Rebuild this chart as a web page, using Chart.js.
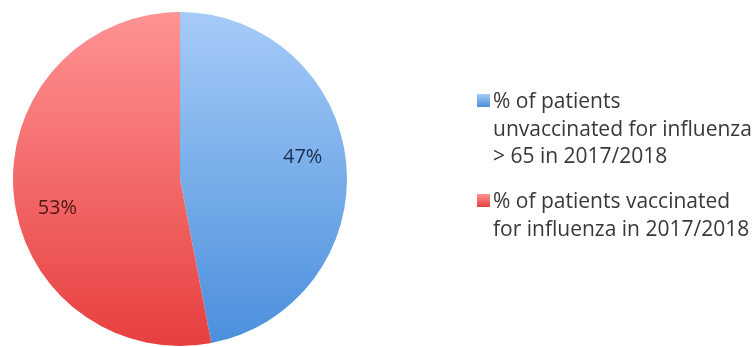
<!DOCTYPE html>
<html>
<head>
<meta charset="utf-8">
<title>Influenza vaccination</title>
<script src="https://cdn.jsdelivr.net/npm/chart.js@4/dist/chart.umd.min.js"></script>
<style>
  body { margin:0; background:#ffffff; }
  #kutu { position:relative; width:755px; height:347px; }
</style>
</head>
<body>
<div id="kutu"><canvas id="pastaChart"></canvas></div>
<script>
/*VERİLER*/
var sliceLabels = [
  ["% of patients", "unvaccinated for influenza", "> 65 in 2017/2018"],
  ["% of patients vaccinated", "for influenza in 2017/2018"]
];
var sliceValues = [47, 53];
var sliceTopColors = ["#a6cbf8", "#ff9393"];
var sliceBottomColors = ["#4a8fdc", "#e73f3f"];
var labelColors = ["#1c2b4c", "#4d1618"];
/*VERİLER*/

var yaziFontu = "'Open Sans', 'Noto Sans', sans-serif";

function dilimRengi(context) {
  var chart = context.chart;
  var alan = chart.chartArea;
  var i = context.dataIndex;
  if (!alan) {
    return sliceBottomColors[i];
  }
  var g = chart.ctx.createLinearGradient(0, alan.top, 0, alan.bottom);
  g.addColorStop(0, sliceTopColors[i]);
  g.addColorStop(1, sliceBottomColors[i]);
  return g;
}

/*DİLİM ETİKETLERİ*/
var dilimEtiketleri = {
  id: "dilimEtiketleri",
  afterDatasetsDraw: function (chart) {
    var ctx = chart.ctx;
    var meta = chart.getDatasetMeta(0);
    ctx.save();
    ctx.font = "20px " + yaziFontu;
    ctx.textAlign = "center";
    ctx.textBaseline = "middle";
    for (var i = 0; i < meta.data.length; i++) {
      var arc = meta.data[i];
      var p = arc.getProps(["x", "y", "startAngle", "endAngle", "outerRadius"], true);
      var aci = (p.startAngle + p.endAngle) / 2 - 0.11;
      var r = p.outerRadius * 0.75;
      ctx.fillStyle = labelColors[i];
      ctx.fillText(sliceValues[i] + "%", p.x + Math.cos(aci) * r, p.y + Math.sin(aci) * r + 4);
    }
    ctx.restore();
  }
};

/*LEJANT*/
var lejant = {
  id: "lejant",
  afterDraw: function (chart) {
    var ctx = chart.ctx;
    var x = 477;
    var y = 108;
    var satir = 27.5;
    ctx.save();
    ctx.font = "21px " + yaziFontu;
    ctx.textAlign = "left";
    ctx.textBaseline = "alphabetic";
    for (var i = 0; i < sliceLabels.length; i++) {
      var g = ctx.createLinearGradient(0, y - 14, 0, y - 1);
      g.addColorStop(0, sliceTopColors[i]);
      g.addColorStop(1, sliceBottomColors[i]);
      ctx.fillStyle = g;
      ctx.fillRect(x, y - 14, 13, 13);
      ctx.fillStyle = "#383838";
      for (var j = 0; j < sliceLabels[i].length; j++) {
        ctx.fillText(sliceLabels[i][j], x + 16, y + j * satir);
      }
      y += sliceLabels[i].length * satir + 17.5;
    }
    ctx.restore();
  }
};

var ctx = document.getElementById("pastaChart");
var myChart = new Chart(ctx, {
  type: "pie",
  data: {
    labels: sliceLabels,
    datasets: [{
      data: sliceValues,
      backgroundColor: dilimRengi,
      borderWidth: 0
    }]
  },
  options: {
    responsive: true,
    maintainAspectRatio: false,
    animation: false,
    events: [],
    layout: { padding: { left: 13, top: 12, right: 408, bottom: 1 } },
    plugins: {
      legend: { display: false },
      tooltip: { enabled: false }
    }
  },
  plugins: [dilimEtiketleri, lejant]
});
</script>
</body>
</html>
